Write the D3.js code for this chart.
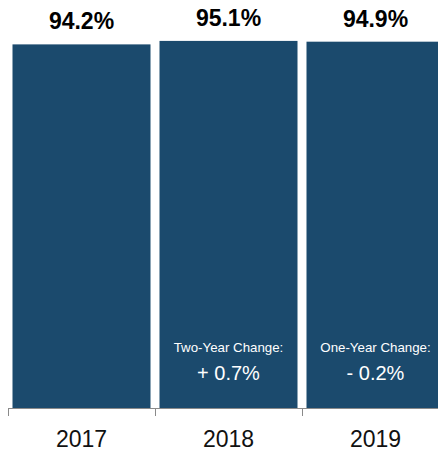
<!DOCTYPE html>
<html>
<head>
<meta charset="utf-8">
<script src="https://cdn.jsdelivr.net/npm/d3@7"></script>
<style>
  html, body { margin: 0; padding: 0; background: #ffffff; }
  svg { display: block; font-family: "Liberation Sans", Arial, Helvetica, sans-serif; }
</style>
</head>
<body>
<svg id="chart" width="438" height="451"></svg>
<script>
// Share of respondents by year
const years = ["2017", "2018", "2019"];
const values = [94.2, 95.1, 94.9];
const valueLabels = ["94.2%", "95.1%", "94.9%"];
const changeTitles = ["", "Two-Year Change:", "One-Year Change:"];
const changeLabels = ["", "+ 0.7%", "- 0.2%"];

const barColor = "#1b4a6d";
const svg = d3.select("#chart");

const x = d3.scaleBand()
  .domain(years)
  .range([8, 449])
  .paddingInner(9 / 147)
  .paddingOuter(4.5 / 147);

const y = d3.scaleLinear()
  .domain([0, 100])
  .range([408, 22]);

const step = x.step();
const bandEdge = d => x(d) - (step - x.bandwidth()) / 2;

// Bars
svg.append("g").selectAll("rect")
  .data(years)
  .join("rect")
  .attr("x", d => x(d))
  .attr("y", (d, i) => y(values[i]))
  .attr("width", x.bandwidth())
  .attr("height", (d, i) => y(0) - y(values[i]))
  .attr("fill", barColor);

// Value labels above bars
svg.append("g").selectAll("text")
  .data(years)
  .join("text")
  .attr("x", d => x(d) + x.bandwidth() / 2)
  .attr("y", (d, i) => y(values[i]) - 15)
  .attr("text-anchor", "middle")
  .attr("font-size", 23)
  .attr("font-weight", "bold")
  .attr("fill", "#000")
  .text((d, i) => valueLabels[i]);

// Change annotations inside bars
const notes = svg.append("g");
years.forEach((d, i) => {
  if (!changeTitles[i]) return;
  const cx = x(d) + x.bandwidth() / 2;
  notes.append("text")
    .attr("x", cx)
    .attr("y", 352)
    .attr("text-anchor", "middle")
    .attr("font-size", 13.3)
    .attr("fill", "#ffffff")
    .text(changeTitles[i]);
  notes.append("text")
    .attr("x", cx)
    .attr("y", 380)
    .attr("text-anchor", "middle")
    .attr("font-size", 20)
    .attr("fill", "#ffffff")
    .text(changeLabels[i]);
});

// Axis: baseline with ticks at band boundaries
const axis = svg.append("g").attr("stroke", "#8a8a8a").attr("stroke-width", 1);
axis.append("line")
  .attr("x1", bandEdge(years[0]))
  .attr("x2", 449)
  .attr("y1", y(0) + 0.5)
  .attr("y2", y(0) + 0.5);
const edges = years.map(bandEdge).concat([bandEdge(years[years.length - 1]) + step]);
axis.selectAll("line.tick")
  .data(edges)
  .join("line")
  .attr("class", "tick")
  .attr("x1", d => Math.round(d) + 0.5)
  .attr("x2", d => Math.round(d) + 0.5)
  .attr("y1", y(0))
  .attr("y2", y(0) + 8);

// Year labels
svg.append("g").selectAll("text")
  .data(years)
  .join("text")
  .attr("x", d => x(d) + x.bandwidth() / 2)
  .attr("y", 447)
  .attr("text-anchor", "middle")
  .attr("font-size", 23)
  .attr("fill", "#111")
  .text(d => d);
</script>
</body>
</html>
